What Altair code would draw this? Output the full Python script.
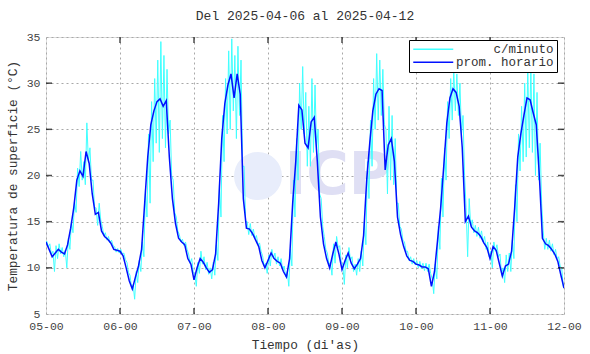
import altair as alt
import pandas as pd

# ---------------- data ----------------
day_starts = [5, 6, 7, 8, 9, 10, 11]

# hourly mean ("prom. horario"), one list per day, hours 0..23
blue_d5 = [12.8, 12.0, 11.2, 11.6, 12.0, 11.7, 11.5, 12.5, 14.3, 16.5, 19.5, 20.5, 19.9, 22.6, 21.3, 18.0, 15.8, 16.0, 14.0, 13.4, 13.1, 12.7, 12.0, 11.9]
blue_d6 = [11.8, 11.3, 10.0, 8.6, 7.7, 9.0, 10.2, 12.0, 17.0, 22.0, 25.5, 27.0, 28.0, 28.3, 27.5, 28.1, 22.0, 17.5, 14.8, 13.2, 12.8, 12.5, 11.0, 10.4]
blue_d7 = [8.7, 10.0, 11.0, 10.6, 10.0, 9.5, 9.8, 11.5, 17.0, 24.0, 27.8, 29.8, 31.0, 28.4, 31.0, 28.8, 17.5, 14.3, 14.2, 13.7, 13.0, 12.3, 10.8, 10.0]
blue_d8 = [10.8, 11.6, 11.0, 10.7, 10.5, 9.6, 9.0, 11.0, 17.0, 21.5, 27.6, 27.1, 23.5, 23.0, 25.8, 26.3, 21.5, 15.5, 12.6, 11.0, 10.0, 11.5, 12.8, 11.5]
blue_d9 = [9.8, 10.8, 11.6, 10.5, 9.9, 10.4, 11.0, 13.5, 19.5, 23.5, 27.0, 28.8, 29.4, 29.2, 20.6, 23.3, 24.0, 21.5, 15.5, 13.6, 12.3, 11.3, 10.8, 10.7]
blue_d10 = [10.4, 10.3, 10.1, 10.1, 9.9, 8.0, 9.6, 13.0, 16.5, 21.0, 25.7, 28.4, 29.4, 29.0, 27.5, 23.0, 15.0, 15.6, 14.4, 14.0, 13.8, 13.4, 12.7, 12.2]
blue_d11 = [11.0, 12.3, 11.9, 10.5, 9.1, 10.2, 10.4, 11.8, 16.5, 22.0, 24.5, 26.5, 28.4, 28.2, 26.8, 25.5, 20.0, 13.2, 12.6, 12.4, 12.0, 11.5, 10.7, 9.2]
blue_end = 7.8

# per-minute series ("c/minuto"): highest and lowest reading in each hour
hi_d5 = [12.9, 12.6, 11.8, 12.4, 12.6, 12.2, 11.9, 13.2, 15.0, 17.2, 20.8, 22.6, 21.5, 25.7, 23.0, 19.5, 16.5, 17.0, 14.5, 13.8, 13.4, 13.0, 12.3, 12.1]
lo_d5 = [12.3, 11.4, 9.6, 11.0, 11.5, 11.2, 10.0, 12.0, 13.8, 16.0, 18.8, 19.5, 19.0, 21.5, 19.5, 16.5, 14.6, 15.2, 13.5, 13.0, 12.7, 12.4, 11.7, 11.6]
hi_d6 = [12.0, 11.6, 10.6, 9.2, 8.2, 9.6, 10.8, 12.8, 18.5, 24.5, 28.0, 30.5, 32.5, 34.5, 33.0, 31.5, 26.0, 19.5, 15.5, 13.6, 13.1, 12.8, 11.5, 11.0]
lo_d6 = [11.5, 10.9, 9.5, 7.8, 6.6, 8.4, 9.6, 11.2, 15.5, 17.0, 21.5, 23.5, 22.5, 24.0, 23.0, 24.5, 20.0, 16.0, 14.0, 12.8, 12.4, 12.0, 10.5, 9.6]
hi_d7 = [9.3, 10.6, 11.8, 11.2, 10.6, 10.0, 10.6, 12.5, 19.0, 26.5, 30.5, 33.5, 34.8, 33.0, 34.0, 32.5, 21.0, 15.0, 14.8, 14.2, 13.5, 12.7, 11.3, 10.5]
lo_d7 = [8.0, 9.4, 10.4, 9.8, 9.3, 8.8, 9.2, 10.8, 15.5, 21.5, 24.5, 25.0, 27.0, 24.0, 26.5, 21.0, 15.0, 13.6, 13.5, 13.2, 12.5, 11.8, 10.2, 9.4]
hi_d8 = [11.4, 12.0, 11.6, 11.2, 11.0, 10.2, 9.6, 12.0, 19.5, 24.0, 30.0, 31.8, 29.0, 27.5, 30.5, 29.8, 25.0, 17.5, 13.4, 11.6, 10.6, 12.6, 13.4, 12.4]
lo_d8 = [10.2, 11.0, 10.4, 10.2, 9.8, 9.0, 8.0, 10.2, 15.5, 19.5, 25.0, 24.5, 21.0, 21.0, 22.5, 23.0, 18.0, 14.5, 12.0, 10.4, 9.2, 10.5, 12.2, 10.6]
hi_d9 = [10.4, 11.4, 12.2, 11.2, 10.4, 11.0, 11.8, 15.0, 21.5, 26.0, 30.5, 33.2, 32.5, 31.5, 25.0, 27.5, 26.5, 24.0, 17.0, 14.2, 12.8, 11.8, 11.2, 11.0]
lo_d9 = [8.2, 10.0, 10.8, 9.6, 9.2, 9.6, 10.2, 12.5, 17.5, 21.0, 25.0, 26.0, 26.5, 25.5, 18.0, 19.5, 19.0, 17.0, 14.5, 13.0, 11.8, 10.8, 10.4, 10.3]
hi_d10 = [10.8, 10.7, 10.5, 10.5, 10.4, 8.8, 10.4, 14.5, 19.7, 23.0, 28.0, 30.5, 31.4, 31.0, 30.0, 26.5, 16.5, 17.5, 15.2, 14.6, 14.4, 14.0, 13.4, 12.8]
lo_d10 = [10.0, 9.9, 9.7, 9.6, 9.4, 7.2, 8.8, 12.0, 15.5, 19.5, 24.0, 26.0, 27.0, 26.5, 24.5, 20.0, 11.2, 14.5, 13.8, 13.4, 13.2, 12.8, 12.0, 11.2]
hi_d11 = [11.8, 12.8, 12.5, 11.5, 10.0, 11.4, 11.6, 13.0, 19.0, 24.5, 27.5, 30.0, 31.5, 31.8, 31.0, 29.0, 23.5, 14.0, 13.2, 13.0, 12.6, 12.0, 11.2, 10.0]
lo_d11 = [10.0, 11.8, 11.2, 9.2, 8.4, 9.6, 9.6, 11.0, 15.0, 20.5, 21.5, 22.0, 23.0, 22.5, 20.0, 19.5, 17.0, 12.0, 12.0, 11.8, 11.4, 11.0, 10.2, 8.0]

x_tick_values = [5, 6, 7, 8, 9, 10, 11, 12]
y_tick_values = [5, 10, 15, 20, 25, 30, 35]
series_names = ["c/minuto", "prom. horario"]
series_colors = ["#40ffff", "#0010ff"]

# ---------------- tables ----------------
blue_days = [blue_d5, blue_d6, blue_d7, blue_d8, blue_d9, blue_d10, blue_d11]
hi_days = [hi_d5, hi_d6, hi_d7, hi_d8, hi_d9, hi_d10, hi_d11]
lo_days = [lo_d5, lo_d6, lo_d7, lo_d8, lo_d9, lo_d10, lo_d11]

b_t, b_v = [], []
for d, vals in zip(day_starts, blue_days):
    for h, v in enumerate(vals):
        b_t.append(d + h / 24)
        b_v.append(v)
b_t.append(12.0)
b_v.append(blue_end)
blue_df = pd.DataFrame({"t": b_t, "v": b_v, "serie": series_names[1]})

c_t, c_v = [5.0], [blue_d5[0]]
for d, his, los in zip(day_starts, hi_days, lo_days):
    for h in range(24):
        c_t.append(d + (h + 0.25) / 24)
        c_v.append(his[h])
        c_t.append(d + (h + 0.75) / 24)
        c_v.append(los[h])
c_t.append(12.0)
c_v.append(blue_end)
cyan_df = pd.DataFrame({"t": c_t, "v": c_v, "serie": series_names[0]})

FONT = "Liberation Mono"
W, H = 518, 277

xscale = alt.Scale(domain=[5, 12], nice=False, zero=False)
yscale = alt.Scale(domain=[5, 35], nice=False, zero=False)
cscale = alt.Scale(domain=series_names, range=series_colors)

xaxis = alt.Axis(
    values=x_tick_values,
    labelExpr="(datum.value < 10 ? '0' : '') + datum.value + '-00'",
    title="Tiempo (di'as)",
    grid=True, gridDash=[2, 3], gridColor="#a8a8a8", gridWidth=1,
    ticks=False, domain=False,
    labelFont=FONT, labelFontSize=11.5, labelColor="#444", labelPadding=6,
    labelFlush=False,
    titleFont=FONT, titleFontSize=12.8, titleFontWeight="normal", titleColor="#333", titlePadding=7,
)
yaxis = alt.Axis(
    values=y_tick_values,
    title="Temperatura de superficie (°C)",
    grid=True, gridDash=[2, 3], gridColor="#a8a8a8", gridWidth=1,
    ticks=False, domain=False,
    labelFont=FONT, labelFontSize=11.5, labelColor="#444", labelPadding=6,
    labelFlush=False,
    titleFont=FONT, titleFontSize=12.8, titleFontWeight="normal", titleColor="#333", titlePadding=7,
)

legend = alt.Legend(
    title=None, orient="none", legendX=363, legendY=3,
    symbolType="M-4,0H4", symbolSize=100, symbolStrokeWidth=1.5, symbolOffset=15,
    labelAlign="right", labelOffset=114,
    labelFont=FONT, labelFontSize=12.5, labelColor="#333",
    strokeColor="#000", fillColor="#fff", padding=3, rowPadding=0,
    cornerRadius=0,
)

one = pd.DataFrame({"a": [0]})

logo_circle = alt.Chart(one).mark_point(
    shape="circle", filled=True, color="#e8edfb", opacity=1
).encode(x=alt.value(212), y=alt.value(139), size=alt.value(2300))

logo_text = alt.Chart(one).mark_text(
    text="ICP", font="DejaVu Sans", fontWeight="bold", fontSize=58,
    color="#dfdff4", align="center", baseline="middle"
).encode(x=alt.value(292), y=alt.value(140))

cyan = alt.Chart(cyan_df).mark_line(strokeWidth=1, clip=True).encode(
    x=alt.X("t:Q", scale=xscale, axis=xaxis),
    y=alt.Y("v:Q", scale=yscale, axis=yaxis),
    color=alt.Color("serie:N", scale=cscale, legend=legend),
)

blue = alt.Chart(blue_df).mark_line(strokeWidth=1.5, clip=True).encode(
    x=alt.X("t:Q", scale=xscale),
    y=alt.Y("v:Q", scale=yscale),
    color=alt.Color("serie:N", scale=cscale, legend=legend),
)

xt = pd.DataFrame({"t": x_tick_values[1:-1]})
yt = pd.DataFrame({"v": y_tick_values[1:-1]})
tick_style = dict(color="#000", thickness=1.5, size=6)
top_ticks = alt.Chart(xt).mark_tick(orient="vertical", **tick_style).encode(
    x=alt.X("t:Q", scale=xscale), y=alt.value(3))
bot_ticks = alt.Chart(xt).mark_tick(orient="vertical", **tick_style).encode(
    x=alt.X("t:Q", scale=xscale), y=alt.value(H - 3))
left_ticks = alt.Chart(yt).mark_tick(orient="horizontal", **tick_style).encode(
    y=alt.Y("v:Q", scale=yscale), x=alt.value(3))
right_ticks = alt.Chart(yt).mark_tick(orient="horizontal", **tick_style).encode(
    y=alt.Y("v:Q", scale=yscale), x=alt.value(W - 3))

chart = alt.layer(
    logo_circle, logo_text, cyan, blue, top_ticks, bot_ticks, left_ticks, right_ticks
).properties(
    width=W, height=H,
    title=alt.TitleParams(
        "Del 2025-04-06 al 2025-04-12", font=FONT, fontSize=13,
        fontWeight="normal", color="#333", anchor="middle", offset=8,
    ),
    padding={"left": 46, "top": 37, "right": 26, "bottom": 40},
    autosize=alt.AutoSizeParams(type="none"),
).configure_view(
    stroke="#000", strokeWidth=1.5
).configure(background="#ffffff")

chart.save("out.html", embed_options={"renderer": "svg", "actions": False})
